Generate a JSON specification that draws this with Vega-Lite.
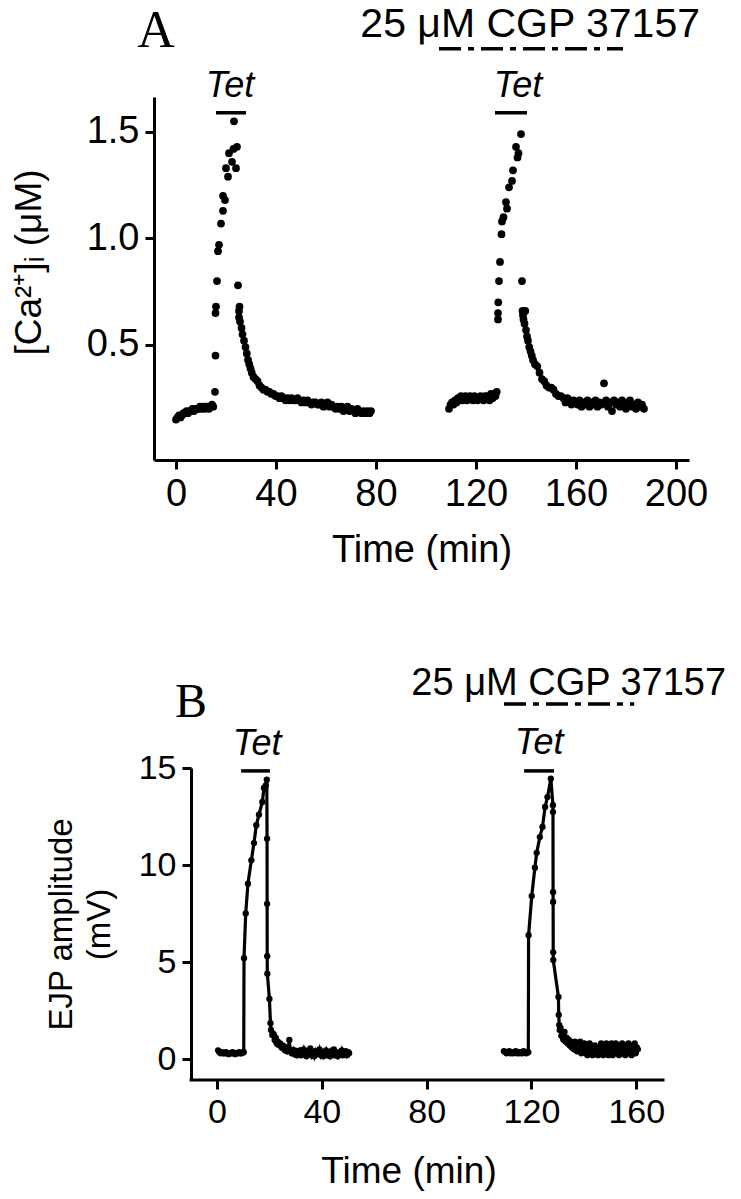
{
  "$schema": "https://vega.github.io/schema/vega-lite/v6.json",
  "background": "white",
  "padding": {"left": 10, "top": 3, "right": 5, "bottom": 5},
  "spacing": 96,
  "config": {
    "font": "Liberation Sans",
    "view": {"stroke": null},
    "axis": {"domainColor": "black", "domainWidth": 3, "tickColor": "black", "tickWidth": 3, "tickSize": 9, "labelColor": "black", "titleColor": "black", "titleFontWeight": "normal", "grid": false, "labelFont": "Liberation Sans", "titleFont": "Liberation Sans"}
  },
  "datasets": {
    "calcium": [
      {"t":0,"ca":0.15},{"t":0.6,"ca":0.16},{"t":1.2,"ca":0.17},{"t":1.8,"ca":0.16},{"t":2.4,"ca":0.17},{"t":3,"ca":0.18},{"t":3.6,"ca":0.18},{"t":4.2,"ca":0.19},{"t":4.8,"ca":0.18},{"t":5.4,"ca":0.19},{"t":6,"ca":0.19},{"t":6.6,"ca":0.2},{"t":7.2,"ca":0.19},{"t":7.8,"ca":0.2},{"t":8.4,"ca":0.2},{"t":9,"ca":0.2},{"t":9.6,"ca":0.21},{"t":10.2,"ca":0.2},{"t":10.8,"ca":0.21},{"t":11.4,"ca":0.2},{"t":12,"ca":0.21},{"t":12.6,"ca":0.21},{"t":13.2,"ca":0.2},{"t":13.8,"ca":0.21},{"t":14.4,"ca":0.22},{"t":14.9,"ca":0.21},
      {"t":15.6,"ca":0.28},{"t":15.8,"ca":0.45},{"t":15.8,"ca":0.65},{"t":16,"ca":0.68},{"t":16.4,"ca":0.8},{"t":16.8,"ca":0.94},{"t":17.2,"ca":0.97},{"t":18,"ca":1.07},{"t":18.8,"ca":1.13},{"t":18.8,"ca":1.2},{"t":19.6,"ca":1.18},{"t":20,"ca":1.33},{"t":20.8,"ca":1.29},{"t":21.2,"ca":1.4},{"t":22.4,"ca":1.36},{"t":23,"ca":1.42},{"t":23.2,"ca":1.55},{"t":24,"ca":1.33},{"t":24.4,"ca":1.43},
      {"t":24.8,"ca":0.78},{"t":25.2,"ca":0.66},{"t":25.2,"ca":0.63},{"t":25.4,"ca":0.68},{"t":25.6,"ca":0.61},{"t":26.2,"ca":0.58},{"t":26.6,"ca":0.55},{"t":27.2,"ca":0.52},{"t":27.8,"ca":0.49},{"t":28.3,"ca":0.46},{"t":28.8,"ca":0.43},{"t":29.3,"ca":0.41},{"t":29.8,"ca":0.39},{"t":30.3,"ca":0.37},{"t":31,"ca":0.35},{"t":31.8,"ca":0.34},{"t":32.6,"ca":0.33},{"t":33.4,"ca":0.31},{"t":34.2,"ca":0.3},{"t":35,"ca":0.29},{"t":35.8,"ca":0.29},{"t":36.6,"ca":0.28},{"t":37.4,"ca":0.28},{"t":38.2,"ca":0.27},{"t":39,"ca":0.27},{"t":39.8,"ca":0.26},{"t":40.6,"ca":0.26},{"t":41.4,"ca":0.25},{"t":42.2,"ca":0.26},{"t":43,"ca":0.25},{"t":43.8,"ca":0.24},{"t":44.6,"ca":0.25},{"t":45.4,"ca":0.24},{"t":46.2,"ca":0.25},{"t":47,"ca":0.24},{"t":47.8,"ca":0.24},{"t":48.6,"ca":0.25},{"t":49.4,"ca":0.24},{"t":50.2,"ca":0.23},{"t":51,"ca":0.24},{"t":51.8,"ca":0.23},{"t":52.6,"ca":0.24},{"t":53.4,"ca":0.23},{"t":54.2,"ca":0.22},{"t":55,"ca":0.23},{"t":55.8,"ca":0.23},{"t":56.6,"ca":0.22},{"t":57.4,"ca":0.22},{"t":58.2,"ca":0.23},{"t":59,"ca":0.21},{"t":59.8,"ca":0.22},{"t":60.6,"ca":0.23},{"t":61.4,"ca":0.21},{"t":62.2,"ca":0.22},{"t":63,"ca":0.21},{"t":63.8,"ca":0.2},{"t":64.6,"ca":0.21},{"t":65.4,"ca":0.2},{"t":66.2,"ca":0.21},{"t":67,"ca":0.19},{"t":67.8,"ca":0.2},{"t":68.6,"ca":0.21},{"t":69.4,"ca":0.19},{"t":70.2,"ca":0.2},{"t":71,"ca":0.19},{"t":71.8,"ca":0.18},{"t":72.6,"ca":0.2},{"t":73.4,"ca":0.19},{"t":74.2,"ca":0.18},{"t":75,"ca":0.19},{"t":75.8,"ca":0.18},{"t":76.6,"ca":0.19},{"t":77.4,"ca":0.18},{"t":78,"ca":0.19},
      {"t":109.2,"ca":0.2},{"t":109.8,"ca":0.22},{"t":110.4,"ca":0.23},{"t":111,"ca":0.22},{"t":111.6,"ca":0.24},{"t":112.2,"ca":0.23},{"t":112.8,"ca":0.25},{"t":113.4,"ca":0.24},{"t":114,"ca":0.26},{"t":114.6,"ca":0.24},{"t":115.2,"ca":0.25},{"t":115.8,"ca":0.26},{"t":116.4,"ca":0.24},{"t":117,"ca":0.25},{"t":117.6,"ca":0.26},{"t":118.2,"ca":0.25},{"t":118.8,"ca":0.24},{"t":119.4,"ca":0.26},{"t":120,"ca":0.25},{"t":120.6,"ca":0.24},{"t":121.2,"ca":0.25},{"t":121.8,"ca":0.26},{"t":122.4,"ca":0.25},{"t":123,"ca":0.24},{"t":123.6,"ca":0.26},{"t":124.2,"ca":0.25},{"t":124.8,"ca":0.26},{"t":125.4,"ca":0.24},{"t":126,"ca":0.27},{"t":126.6,"ca":0.25},{"t":127.2,"ca":0.27},{"t":127.8,"ca":0.26},{"t":128.3,"ca":0.28},
      {"t":128.8,"ca":0.62},{"t":128.8,"ca":0.65},{"t":128.9,"ca":0.7},{"t":129.2,"ca":0.8},{"t":129.6,"ca":0.89},{"t":130.2,"ca":1.02},{"t":130.4,"ca":1.08},{"t":131,"ca":1.1},{"t":132,"ca":1.17},{"t":132.4,"ca":1.14},{"t":133.2,"ca":1.24},{"t":134.4,"ca":1.27},{"t":134.8,"ca":1.32},{"t":136,"ca":1.43},{"t":136.6,"ca":1.38},{"t":137,"ca":1.4},{"t":138,"ca":1.49},
      {"t":138.4,"ca":0.8},{"t":138.6,"ca":0.66},{"t":138.8,"ca":0.64},{"t":139,"ca":0.62},{"t":139.4,"ca":0.6},{"t":139.7,"ca":0.66},{"t":140,"ca":0.57},{"t":140.4,"ca":0.54},{"t":140.8,"ca":0.52},{"t":141.3,"ca":0.49},{"t":141.8,"ca":0.47},{"t":142.3,"ca":0.45},{"t":142.8,"ca":0.43},{"t":143.6,"ca":0.41},{"t":144.5,"ca":0.4},{"t":145.4,"ca":0.37},{"t":146.4,"ca":0.34},{"t":147.3,"ca":0.33},{"t":148.2,"ca":0.31},{"t":149.2,"ca":0.3},{"t":150.1,"ca":0.3},{"t":151,"ca":0.29},{"t":152,"ca":0.27},{"t":153,"ca":0.26},{"t":154,"ca":0.26},{"t":155,"ca":0.25},{"t":155.8,"ca":0.23},{"t":156.6,"ca":0.25},{"t":157.4,"ca":0.24},{"t":158.2,"ca":0.22},{"t":159,"ca":0.24},{"t":159.8,"ca":0.23},{"t":160.6,"ca":0.22},{"t":161.4,"ca":0.24},{"t":162.2,"ca":0.21},{"t":163,"ca":0.23},{"t":163.8,"ca":0.22},{"t":164.6,"ca":0.24},{"t":165.4,"ca":0.21},{"t":166.2,"ca":0.23},{"t":167,"ca":0.22},{"t":167.8,"ca":0.24},{"t":168.6,"ca":0.21},{"t":169.4,"ca":0.23},{"t":170.2,"ca":0.22},{"t":171.2,"ca":0.32},{"t":172,"ca":0.24},{"t":172.8,"ca":0.21},{"t":173.6,"ca":0.23},{"t":174.4,"ca":0.19},{"t":175.2,"ca":0.24},{"t":176,"ca":0.22},{"t":176.8,"ca":0.23},{"t":177.6,"ca":0.21},{"t":178.4,"ca":0.24},{"t":179.2,"ca":0.22},{"t":180,"ca":0.2},{"t":180.8,"ca":0.23},{"t":181.6,"ca":0.24},{"t":182.4,"ca":0.21},{"t":183.2,"ca":0.22},{"t":184,"ca":0.2},{"t":184.8,"ca":0.23},{"t":185.6,"ca":0.21},{"t":186.4,"ca":0.22},{"t":187.2,"ca":0.2}
    ],
    "ejp": [
      {"run":1,"t":0.4,"mv":0.45},{"run":1,"t":0.9,"mv":0.35},{"run":1,"t":1.4,"mv":0.3},{"run":1,"t":1.9,"mv":0.35},{"run":1,"t":2.4,"mv":0.3},{"run":1,"t":2.9,"mv":0.3},{"run":1,"t":3.4,"mv":0.35},{"run":1,"t":3.9,"mv":0.3},{"run":1,"t":4.4,"mv":0.25},{"run":1,"t":4.9,"mv":0.3},{"run":1,"t":5.4,"mv":0.3},{"run":1,"t":5.9,"mv":0.35},{"run":1,"t":6.4,"mv":0.3},{"run":1,"t":6.9,"mv":0.25},{"run":1,"t":7.4,"mv":0.3},{"run":1,"t":7.9,"mv":0.3},{"run":1,"t":8.4,"mv":0.35},{"run":1,"t":8.9,"mv":0.3},{"run":1,"t":9.4,"mv":0.3},{"run":1,"t":9.9,"mv":0.35},{"run":1,"t":10.2,"mv":0.35},
      {"run":1,"t":10.3,"mv":5.2},{"run":1,"t":10.95,"mv":7.5},{"run":1,"t":11.8,"mv":9.04},{"run":1,"t":13.1,"mv":10.24},{"run":1,"t":14.1,"mv":11.13},{"run":1,"t":15,"mv":12.05},{"run":1,"t":16,"mv":12.59},{"run":1,"t":17.3,"mv":13.25},{"run":1,"t":17.9,"mv":13.97},{"run":1,"t":18.6,"mv":14.1},{"run":1,"t":19,"mv":14.4},
      {"run":1,"t":19.1,"mv":11.36},{"run":1,"t":19.12,"mv":8},{"run":1,"t":19.15,"mv":5.3},{"run":1,"t":19.2,"mv":4.4},{"run":1,"t":20,"mv":3.1},{"run":1,"t":20.4,"mv":1.85},{"run":1,"t":20.6,"mv":1.5},{"run":1,"t":21.1,"mv":1.24},{"run":1,"t":21.5,"mv":1.3},{"run":1,"t":22,"mv":0.98},{"run":1,"t":22.4,"mv":1.1},{"run":1,"t":22.8,"mv":0.8},{"run":1,"t":23.2,"mv":0.9},{"run":1,"t":23.7,"mv":0.73},{"run":1,"t":24.1,"mv":0.8},{"run":1,"t":24.6,"mv":0.6},{"run":1,"t":25,"mv":0.7},{"run":1,"t":25.4,"mv":0.57},{"run":1,"t":25.9,"mv":0.45},{"run":1,"t":26.3,"mv":0.6},{"run":1,"t":26.8,"mv":0.4},{"run":1,"t":27.2,"mv":0.5},{"run":1,"t":27.6,"mv":0.98},{"run":1,"t":28,"mv":0.4},{"run":1,"t":28.5,"mv":0.3},{"run":1,"t":29.1,"mv":0.47},{"run":1,"t":29.6,"mv":0.25},{"run":1,"t":30.1,"mv":0.4},{"run":1,"t":30.6,"mv":0.2},{"run":1,"t":31.1,"mv":0.35},{"run":1,"t":31.6,"mv":0.45},{"run":1,"t":32.1,"mv":0.2},{"run":1,"t":32.6,"mv":0.3},{"run":1,"t":33.1,"mv":0.5},{"run":1,"t":33.6,"mv":0.25},{"run":1,"t":34.1,"mv":0.15},{"run":1,"t":34.6,"mv":0.4},{"run":1,"t":35.1,"mv":0.3},{"run":1,"t":35.6,"mv":0.55},{"run":1,"t":36.1,"mv":0.2},{"run":1,"t":36.6,"mv":0.35},{"run":1,"t":37.1,"mv":0.15},{"run":1,"t":37.6,"mv":0.4},{"run":1,"t":38.1,"mv":0.25},{"run":1,"t":38.6,"mv":0.3},{"run":1,"t":39.1,"mv":0.5},{"run":1,"t":39.6,"mv":0.2},{"run":1,"t":40.1,"mv":0.35},{"run":1,"t":40.6,"mv":0.15},{"run":1,"t":41.1,"mv":0.3},{"run":1,"t":41.6,"mv":0.45},{"run":1,"t":42.1,"mv":0.2},{"run":1,"t":42.6,"mv":0.3},{"run":1,"t":43.1,"mv":0.15},{"run":1,"t":43.6,"mv":0.4},{"run":1,"t":44.1,"mv":0.25},{"run":1,"t":44.6,"mv":0.5},{"run":1,"t":45.1,"mv":0.2},{"run":1,"t":45.6,"mv":0.3},{"run":1,"t":46.1,"mv":0.15},{"run":1,"t":46.6,"mv":0.35},{"run":1,"t":47.1,"mv":0.25},{"run":1,"t":47.6,"mv":0.45},{"run":1,"t":48.1,"mv":0.2},{"run":1,"t":48.6,"mv":0.3},{"run":1,"t":49.1,"mv":0.4},{"run":1,"t":49.6,"mv":0.2},{"run":1,"t":50.1,"mv":0.35},{"run":1,"t":50.4,"mv":0.3},
      {"run":2,"t":109.5,"mv":0.4},{"run":2,"t":110,"mv":0.35},{"run":2,"t":110.5,"mv":0.3},{"run":2,"t":111,"mv":0.35},{"run":2,"t":111.5,"mv":0.4},{"run":2,"t":112,"mv":0.3},{"run":2,"t":112.5,"mv":0.35},{"run":2,"t":113,"mv":0.3},{"run":2,"t":113.5,"mv":0.35},{"run":2,"t":114,"mv":0.4},{"run":2,"t":114.5,"mv":0.3},{"run":2,"t":115,"mv":0.35},{"run":2,"t":115.5,"mv":0.3},{"run":2,"t":116,"mv":0.35},{"run":2,"t":116.5,"mv":0.3},{"run":2,"t":117,"mv":0.4},{"run":2,"t":117.5,"mv":0.35},{"run":2,"t":118,"mv":0.3},{"run":2,"t":118.5,"mv":0.35},{"run":2,"t":118.8,"mv":0.35},
      {"run":2,"t":118.9,"mv":6.38},{"run":2,"t":120.1,"mv":8.4},{"run":2,"t":121.3,"mv":9.86},{"run":2,"t":122,"mv":10.63},{"run":2,"t":123.2,"mv":11.44},{"run":2,"t":124.2,"mv":11.96},{"run":2,"t":125.2,"mv":12.99},{"run":2,"t":126.1,"mv":13.5},{"run":2,"t":127.4,"mv":14.45},
      {"run":2,"t":128.2,"mv":13.08},{"run":2,"t":128.22,"mv":12.73},{"run":2,"t":128.25,"mv":8.6},{"run":2,"t":128.27,"mv":8.1},{"run":2,"t":128.3,"mv":5.5},{"run":2,"t":128.32,"mv":5.1},{"run":2,"t":130.3,"mv":3.2},{"run":2,"t":130.4,"mv":2.27},{"run":2,"t":130.6,"mv":1.75},{"run":2,"t":130.8,"mv":1.5},{"run":2,"t":131.1,"mv":1.6},{"run":2,"t":131.4,"mv":1.2},{"run":2,"t":131.8,"mv":1.3},{"run":2,"t":132.2,"mv":1},{"run":2,"t":132.6,"mv":1.4},{"run":2,"t":133,"mv":0.9},{"run":2,"t":133.4,"mv":1.1},{"run":2,"t":133.8,"mv":0.8},{"run":2,"t":134.2,"mv":1},{"run":2,"t":134.6,"mv":0.7},{"run":2,"t":135,"mv":0.9},{"run":2,"t":135.4,"mv":0.6},{"run":2,"t":135.8,"mv":0.8},{"run":2,"t":136.2,"mv":0.5},{"run":2,"t":136.6,"mv":0.9},{"run":2,"t":137,"mv":0.6},{"run":2,"t":137.4,"mv":0.4},{"run":2,"t":137.8,"mv":0.8},{"run":2,"t":138.2,"mv":0.5},{"run":2,"t":138.6,"mv":0.9},{"run":2,"t":139,"mv":0.3},{"run":2,"t":139.4,"mv":0.6},{"run":2,"t":139.8,"mv":0.4},{"run":2,"t":140.2,"mv":0.8},{"run":2,"t":140.6,"mv":0.3},{"run":2,"t":141,"mv":0.6},{"run":2,"t":141.4,"mv":0.2},{"run":2,"t":141.8,"mv":0.5},{"run":2,"t":142.2,"mv":0.8},{"run":2,"t":142.6,"mv":0.3},{"run":2,"t":143,"mv":0.6},{"run":2,"t":143.4,"mv":0.2},{"run":2,"t":143.8,"mv":0.5},{"run":2,"t":144.2,"mv":0.7},{"run":2,"t":144.6,"mv":0.3},{"run":2,"t":145,"mv":0.5},{"run":2,"t":145.4,"mv":0.2},{"run":2,"t":145.8,"mv":0.6},{"run":2,"t":146.2,"mv":0.3},{"run":2,"t":146.6,"mv":0.8},{"run":2,"t":147,"mv":0.4},{"run":2,"t":147.4,"mv":0.2},{"run":2,"t":147.8,"mv":0.6},{"run":2,"t":148.2,"mv":0.3},{"run":2,"t":148.6,"mv":0.8},{"run":2,"t":149,"mv":0.4},{"run":2,"t":149.4,"mv":0.2},{"run":2,"t":149.8,"mv":0.6},{"run":2,"t":150.2,"mv":0.3},{"run":2,"t":150.6,"mv":0.8},{"run":2,"t":151,"mv":0.2},{"run":2,"t":151.4,"mv":0.6},{"run":2,"t":151.8,"mv":0.4},{"run":2,"t":152.2,"mv":0.8},{"run":2,"t":152.6,"mv":0.3},{"run":2,"t":153,"mv":0.6},{"run":2,"t":153.4,"mv":0.2},{"run":2,"t":153.8,"mv":0.7},{"run":2,"t":154.2,"mv":0.4},{"run":2,"t":154.6,"mv":0.8},{"run":2,"t":155,"mv":0.3},{"run":2,"t":155.4,"mv":0.6},{"run":2,"t":155.8,"mv":0.2},{"run":2,"t":156.2,"mv":0.7},{"run":2,"t":156.6,"mv":0.4},{"run":2,"t":157,"mv":0.8},{"run":2,"t":157.4,"mv":0.3},{"run":2,"t":157.8,"mv":0.6},{"run":2,"t":158.2,"mv":0.2},{"run":2,"t":158.6,"mv":0.7},{"run":2,"t":159,"mv":0.4},{"run":2,"t":159.4,"mv":0.8},{"run":2,"t":159.8,"mv":0.3},{"run":2,"t":160.2,"mv":0.6},{"run":2,"t":160.6,"mv":0.5}
    ]
  },
  "vconcat": [
    {
      "width": 535,
      "height": 363,
      "layer": [
        {
          "data": {"name": "calcium"},
          "mark": {"type": "point", "filled": true, "shape": "circle", "color": "black", "opacity": 1, "size": 60},
          "encoding": {
            "x": {"field": "t", "type": "quantitative", "scale": {"domain": [-8.8, 205.2], "nice": false, "zero": false},
                  "axis": {"values": [0, 40, 80, 120, 160, 200], "title": "Time (min)", "labelFontSize": 38, "titleFontSize": 38, "labelPadding": 6, "titlePadding": 18}},
            "y": {"field": "ca", "type": "quantitative", "scale": {"domain": [-0.04, 1.664], "nice": false, "zero": false},
                  "axis": {"values": [0.5, 1, 1.5], "format": ".1f", "title": "[Ca²⁺]ᵢ (μM)", "labelFontSize": 38, "titleFontSize": 37, "labelPadding": 6, "titlePadding": 38, "titleY": 165}}
          }
        },
        {
          "data": {"values": [{"t": -8, "v": 1.9, "label": "A"}]},
          "mark": {"type": "text", "font": "Liberation Serif", "fontSize": 52, "align": "center", "baseline": "alphabetic", "color": "black"},
          "encoding": {"x": {"field": "t", "type": "quantitative"}, "y": {"field": "v", "type": "quantitative"}, "text": {"field": "label"}}
        },
        {
          "data": {"values": [{"t": 209.6, "v": 1.947, "label": "25 μM CGP 37157"}]},
          "mark": {"type": "text", "fontSize": 41, "align": "right", "baseline": "alphabetic", "color": "black"},
          "encoding": {"x": {"field": "t", "type": "quantitative"}, "y": {"field": "v", "type": "quantitative"}, "text": {"field": "label"}}
        },
        {
          "data": {"values": [{"t": 105.2, "t2": 178.8, "v": 1.89}]},
          "mark": {"type": "rule", "strokeWidth": 3.5, "strokeDash": [22, 7, 6, 7], "color": "black"},
          "encoding": {"x": {"field": "t", "type": "quantitative"}, "x2": {"field": "t2"}, "y": {"field": "v", "type": "quantitative"}}
        },
        {
          "data": {"values": [{"t": 21.6, "v": 1.664, "label": "Tet"}, {"t": 136.8, "v": 1.664, "label": "Tet"}]},
          "mark": {"type": "text", "fontSize": 36, "fontStyle": "italic", "align": "center", "baseline": "alphabetic", "color": "black"},
          "encoding": {"x": {"field": "t", "type": "quantitative"}, "y": {"field": "v", "type": "quantitative"}, "text": {"field": "label"}}
        },
        {
          "data": {"values": [{"t": 16, "t2": 28, "v": 1.59}, {"t": 127.6, "t2": 140.4, "v": 1.59}]},
          "mark": {"type": "rule", "strokeWidth": 3.5, "color": "black"},
          "encoding": {"x": {"field": "t", "type": "quantitative"}, "x2": {"field": "t2"}, "y": {"field": "v", "type": "quantitative"}}
        }
      ]
    },
    {
      "width": 509,
      "height": 312,
      "layer": [
        {
          "data": {"name": "ejp"},
          "mark": {"type": "line", "color": "black", "strokeWidth": 3.2},
          "encoding": {
            "x": {"field": "t", "type": "quantitative", "scale": {"domain": [-24.05, 170.2], "nice": false, "zero": false},
                  "axis": {"values": [0, 40, 80, 120, 160], "domain": false, "title": "Time (min)", "labelFontSize": 34, "titleFontSize": 37, "labelPadding": 6, "titlePadding": 24}},
            "y": {"field": "mv", "type": "quantitative", "scale": {"domain": [-1.08, 15], "nice": false, "zero": false},
                  "axis": {"values": [0, 5, 10, 15], "offset": -37, "title": ["EJP amplitude", "(mV)"], "titleLineHeight": 38, "labelFontSize": 34, "titleFontSize": 33, "labelPadding": 6, "titlePadding": 22}},
            "detail": {"field": "run", "type": "nominal"}
          }
        },
        {
          "data": {"name": "ejp"},
          "mark": {"type": "point", "filled": true, "shape": "circle", "color": "black", "opacity": 1, "size": 40},
          "encoding": {"x": {"field": "t", "type": "quantitative"}, "y": {"field": "mv", "type": "quantitative"}}
        },
        {
          "data": {"values": [{"t": -9.9, "t2": 170.2, "v": -1.08}]},
          "mark": {"type": "rule", "strokeWidth": 3, "strokeCap": "square", "color": "black"},
          "encoding": {"x": {"field": "t", "type": "quantitative"}, "x2": {"field": "t2"}, "y": {"field": "v", "type": "quantitative"}}
        },
        {
          "data": {"values": [{"t": -9.9, "v": 17.63, "label": "B"}]},
          "mark": {"type": "text", "font": "Liberation Serif", "fontSize": 48, "align": "center", "baseline": "alphabetic", "color": "black"},
          "encoding": {"x": {"field": "t", "type": "quantitative"}, "y": {"field": "v", "type": "quantitative"}, "text": {"field": "label"}}
        },
        {
          "data": {"values": [{"t": 194.3, "v": 18.76, "label": "25 μM CGP 37157"}]},
          "mark": {"type": "text", "fontSize": 38, "align": "right", "baseline": "alphabetic", "color": "black"},
          "encoding": {"x": {"field": "t", "type": "quantitative"}, "y": {"field": "v", "type": "quantitative"}, "text": {"field": "label"}}
        },
        {
          "data": {"values": [{"t": 109.5, "t2": 159.2, "v": 18.3}]},
          "mark": {"type": "rule", "strokeWidth": 3.5, "strokeDash": [22, 7, 6, 7], "color": "black"},
          "encoding": {"x": {"field": "t", "type": "quantitative"}, "x2": {"field": "t2"}, "y": {"field": "v", "type": "quantitative"}}
        },
        {
          "data": {"values": [{"t": 15.3, "v": 15.67, "label": "Tet"}, {"t": 122.9, "v": 15.72, "label": "Tet"}]},
          "mark": {"type": "text", "fontSize": 36, "fontStyle": "italic", "align": "center", "baseline": "alphabetic", "color": "black"},
          "encoding": {"x": {"field": "t", "type": "quantitative"}, "y": {"field": "v", "type": "quantitative"}, "text": {"field": "label"}}
        },
        {
          "data": {"values": [{"t": 9.2, "t2": 20.2, "v": 14.85}, {"t": 117.2, "t2": 128.6, "v": 14.85}]},
          "mark": {"type": "rule", "strokeWidth": 3.5, "color": "black"},
          "encoding": {"x": {"field": "t", "type": "quantitative"}, "x2": {"field": "t2"}, "y": {"field": "v", "type": "quantitative"}}
        }
      ]
    }
  ]
}
